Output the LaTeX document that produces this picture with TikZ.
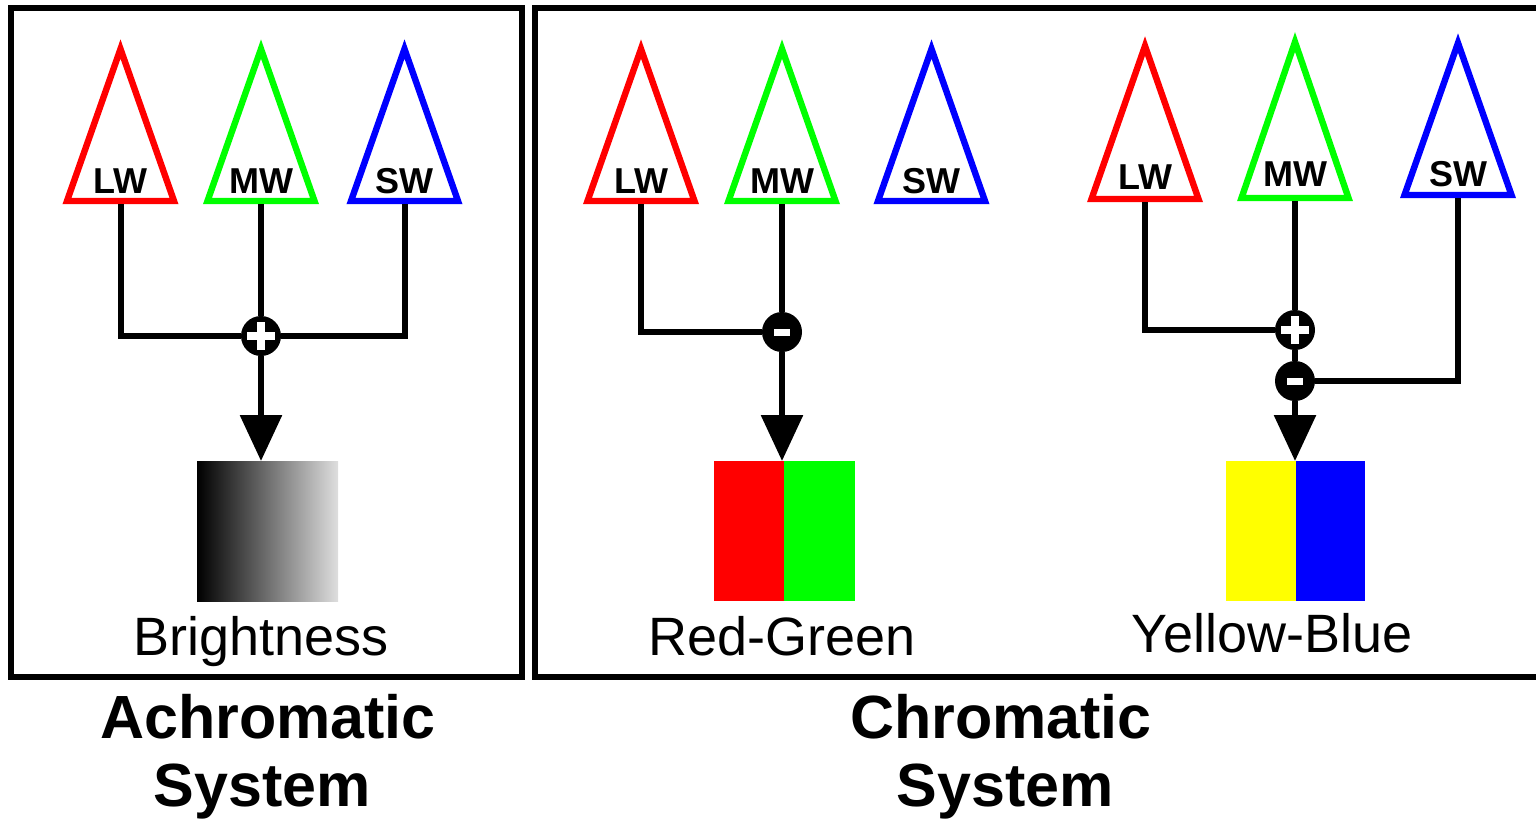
\documentclass[tikz,border=0pt]{standalone}
\usepackage{fontspec}
\setmainfont{Liberation Sans}
\usetikzlibrary{arrows.meta}
\definecolor{pR}{RGB}{255,0,0}
\definecolor{pG}{RGB}{0,255,0}
\definecolor{pB}{RGB}{0,0,255}
\definecolor{pY}{RGB}{255,255,0}
\definecolor{pLight}{RGB}{222,222,222}
% #1 name, #2 colour, #3 centre x, #4 apex y, #5 base y, #6 label, #7 label baseline y
\newcommand\conetri[7]{%
  \draw[tri,draw=#2] ({#3-53.5},#5) -- (#3,#4) -- ({#3+53.5},#5) -- cycle;
  \coordinate (#1) at (#3,{#5+3});
  \node[conelabel] (#1l) at (#3,#7) {#6};
}
\begin{document}
\begin{tikzpicture}[x=0.5pt,y=-0.5pt,
  frame/.style={draw=black,line width=3pt},
  tri/.style={line width=3.2pt,line join=miter},
  wire/.style={line width=3pt},
  arrowwire/.style={wire,-{Triangle[width=20.5pt,length=23pt]}},
  conelabel/.style={font=\bfseries\fontsize{18}{20}\selectfont,anchor=base,inner sep=0},
  sum/.style={circle,fill=black,minimum size=20pt,inner sep=0},
  plussign/.style={sum,path picture={
    \fill[white] ([shift={(-7pt,-2pt)}]path picture bounding box.center) rectangle ([shift={(7pt,2pt)}]path picture bounding box.center);
    \fill[white] ([shift={(-2.2pt,-7pt)}]path picture bounding box.center) rectangle ([shift={(2.2pt,7pt)}]path picture bounding box.center);}},
  minussign/.style={sum,path picture={
    \fill[white] ([shift={(-4pt,-1.75pt)}]path picture bounding box.center) rectangle ([shift={(4pt,1.75pt)}]path picture bounding box.center);}},
  swatch/.style={inner sep=0,outer sep=0,minimum height=70pt,anchor=north west},
  chanlabel/.style={font=\fontsize{27}{30}\selectfont,anchor=base,inner sep=0},
  systitle/.style={font=\bfseries\fontsize{30.5}{34}\selectfont,anchor=base,inner sep=0}]
\useasboundingbox (0,0) rectangle (1536,819);

% frames
\draw[frame] (11,8) rectangle (522,677);
\draw[frame] (535,8) rectangle (1545,677);

% ---------- Achromatic ----------
\node[plussign] (aplus) at (261,336) {};
\node[swatch,minimum width=70.5pt,left color=black,right color=pLight] (abox) at (197,461) {};
\conetri{aL}{pR}{120.5}{49}{201}{LW}{193}
\conetri{aM}{pG}{261}{49}{201}{MW}{193}
\conetri{aS}{pB}{404.5}{49}{201}{SW}{193}
\draw[wire] (aL) |- (aplus);
\draw[wire] (aM) -- (aplus);
\draw[wire] (aS) |- (aplus);
\draw[arrowwire] (aplus) -- (abox.north -| aplus);
\node[chanlabel] (abright) at (261,655) {Brightness};

% ---------- Red-Green ----------
\node[minussign] (rminus) at (782,332) {};
\node[swatch,minimum width=35pt,fill=pR] (rbox) at (714,461) {};
\node[swatch,minimum width=35.5pt,fill=pG] (gbox) at (784,461) {};
\conetri{rL}{pR}{641}{49}{201}{LW}{193}
\conetri{rM}{pG}{782}{49}{201}{MW}{193}
\conetri{rS}{pB}{931.5}{49}{201}{SW}{193}
\draw[wire] (rL) |- (rminus);
\draw[wire] (rM) -- (rminus);
\draw[arrowwire] (rminus) -- (rbox.north east -| rminus);
\node[chanlabel] (rglabel) at (782,655) {Red-Green};

% ---------- Yellow-Blue ----------
\node[plussign] (yplus) at (1295,330) {};
\node[minussign] (yminus) at (1295,381) {};
\node[swatch,minimum width=35pt,fill=pY] (ybox) at (1226,461) {};
\node[swatch,minimum width=34.5pt,fill=pB] (bbox) at (1296,461) {};
\conetri{yL}{pR}{1145}{46}{199}{LW}{189}
\conetri{yM}{pG}{1295}{42}{198}{MW}{186}
\conetri{yS}{pB}{1458}{43}{195}{SW}{186}
\draw[wire] (yL) |- (yplus);
\draw[wire] (yM) -- (yplus);
\draw[wire] (yplus) -- (yminus);
\draw[wire] (yS) |- (yminus);
\draw[arrowwire] (yminus) -- (ybox.north east -| yminus);
\node[chanlabel] (yblabel) at (1272,652) {Yellow-Blue};

% ---------- titles ----------
\node[systitle] (achro1) at (268,738) {Achromatic};
\node[systitle] (achro2) at (262,806) {System};
\node[systitle] (chro1) at (1001,738) {Chromatic};
\node[systitle] (chro2) at (1005,806) {System};
\end{tikzpicture}
\end{document}
